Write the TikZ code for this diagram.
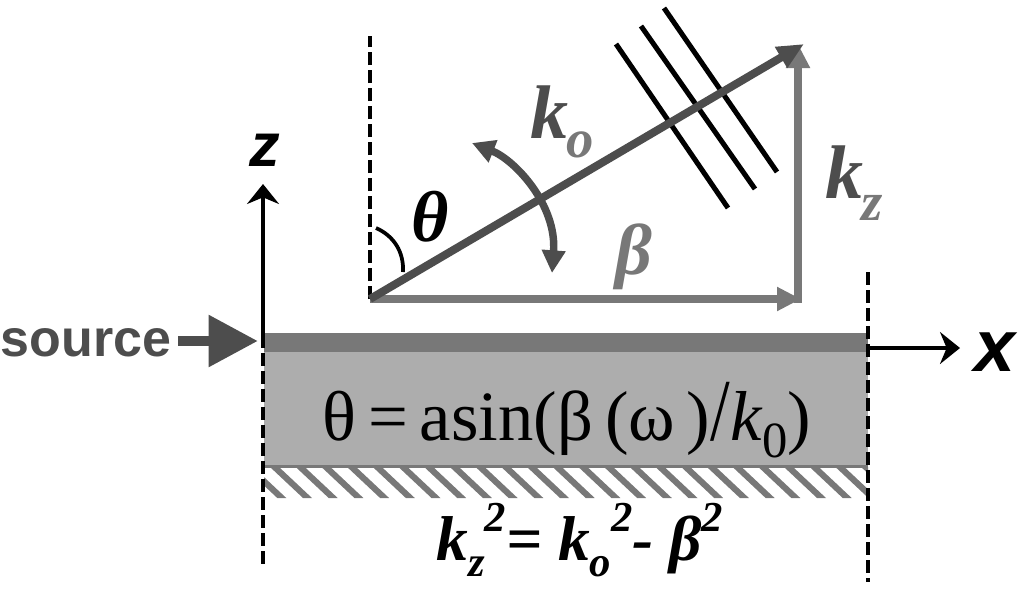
\documentclass[tikz,border=0pt]{standalone}
\usepackage{fontspec}
\setmainfont{Liberation Serif}
\setsansfont{Liberation Sans}
\usetikzlibrary{arrows.meta}
\definecolor{darkg}{HTML}{4D4D4D}
\definecolor{midg}{HTML}{787878}
\definecolor{lightg}{HTML}{ADADAD}
\tikzset{
  lab/.style={inner sep=0pt,font=\bfseries\itshape},
  dash line/.style={draw=black,line width=3.2pt,dash pattern=on 9.5pt off 4pt},
  thinblack/.style={draw=black,line width=3.8pt},
  kvec/.style={draw=darkg,line width=6pt,-{Triangle[length=20pt,width=17pt]}},
  gvec/.style={draw=midg,line width=5.8pt,-{Triangle[length=18pt,width=17pt]}},
  axisarrow/.style={draw=black,line width=3.4pt,-{Stealth[length=15pt,width=24pt,inset=5pt]}},
  swing/.style={draw=darkg,line width=5.6pt,{Triangle[length=17pt,width=17pt]}-{Triangle[length=17pt,width=17pt]}},
}
\begin{document}
\begin{tikzpicture}[x=0.75pt,y=-0.75pt]
\useasboundingbox (0,0) rectangle (1024,600);
% film stack
\fill[lightg] (264,352) rectangle (868,465);
\fill[midg] (264,333) rectangle (868,352);
\fill[midg] (264,465) rectangle (868,468);
\begin{scope}
\clip (264,467) rectangle (868,498);
\foreach \i in {-2,...,24} {
  \fill[midg] ({264+\i*25.7+6},467) -- ({264+\i*25.7+15},467) -- ({264+\i*25.7+48},498) -- ({264+\i*25.7+39},498) -- cycle;
}
\end{scope}
% named points
\coordinate (O) at (370,299);
\coordinate (Otop) at (370,36);
\coordinate (Kend) at (804,44);
\coordinate (Bend) at (801,299);
\coordinate (Zstart) at (798,303);
\coordinate (Zend) at (798,44);
\coordinate (Zaxis0) at (263,345);
\coordinate (Zaxis1) at (263,184);
\coordinate (Ldash0) at (263,335);
\coordinate (Ldash1) at (263,568);
\coordinate (Rdash0) at (868,272);
\coordinate (Rdash1) at (868,582);
\coordinate (Xaxis0) at (868,348);
\coordinate (Xaxis1) at (960,348);
\coordinate (Src0) at (178,341);
\coordinate (Src1) at (258,341);
% dashes and axes
\draw[dash line] (O) -- (Otop);
\draw[dash line] (Ldash0) -- (Ldash1);
\draw[dash line] (Rdash0) -- (Rdash1);
\draw[axisarrow] (Zaxis0) -- (Zaxis1);
\draw[axisarrow] (Xaxis0) -- (Xaxis1);
% wave fronts
\draw[thinblack] (616,44) -- (728,208);
\draw[thinblack] (641,26) -- (755,189);
\draw[thinblack] (664,8) -- (777,172);
% vectors
\draw[gvec] (O) -- (Bend);
\draw[gvec] (Zstart) -- (Zend);
\draw[kvec] (O) -- (Kend);
% angle marks
\draw[draw=black,line width=2.8pt] (376,228) .. controls (394,236) and (404,252) .. (403,272);
\draw[swing] (472,143) .. controls (515,160) and (557,205) .. (552,273);
% source arrow
\draw[draw=darkg,line width=8pt,-{Triangle[length=37pt,width=37pt]}] (Src0) -- (Src1);
% labels
\node[inner sep=0pt,text=darkg,font=\sffamily\bfseries\fontsize{39}{39}\selectfont] (src) at (86,343) {source};
\node[lab,text=darkg,font=\bfseries\itshape\fontsize{57}{57}\selectfont] (ko) at (549,112) {k};
\node[lab,text=midg,font=\bfseries\itshape\fontsize{41}{41}\selectfont] (kosub) at (580,145) {o};
\node[lab,text=black,font=\sffamily\bfseries\itshape\fontsize{46}{46}\selectfont] (zlab) at (265,150) {z};
\node[lab,text=black,font=\bfseries\itshape\fontsize{54}{54}\selectfont] (thetalab) at (430,217) {θ};
\node[lab,text=midg,font=\bfseries\itshape\fontsize{54}{54}\selectfont] (betalab) at (634,257) {β};
\node[lab,text=darkg,font=\bfseries\itshape\fontsize{57}{57}\selectfont] (kz) at (844,172) {k};
\node[lab,text=midg,font=\bfseries\itshape\fontsize{41}{41}\selectfont] (kzsub) at (872,208) {z};
\node[lab,text=black,font=\sffamily\bfseries\itshape\fontsize{55}{55}\selectfont] (xlab) at (995,352) {x};
\node[inner sep=0pt,text=black,font=\fontsize{53}{53}\selectfont] (formula) at (567,420) {θ\,=\,asin(β\,(ω\,)\scalebox{1}[1.25]{/}\textit{k}\raisebox{-0.25em}{\fontsize{38}{38}\selectfont 0})};
\node[lab,text=black,font=\bfseries\itshape\fontsize{47.5}{47.5}\selectfont] (disp) at (580,540) {k\raisebox{-0.25em}{\fontsize{32}{32}\selectfont z}\raisebox{0.45em}{\fontsize{32}{32}\selectfont 2}= k\raisebox{-0.25em}{\fontsize{32}{32}\selectfont o}\raisebox{0.45em}{\fontsize{32}{32}\selectfont 2}- β\raisebox{0.45em}{\fontsize{32}{32}\selectfont 2}};
\end{tikzpicture}
\end{document}
